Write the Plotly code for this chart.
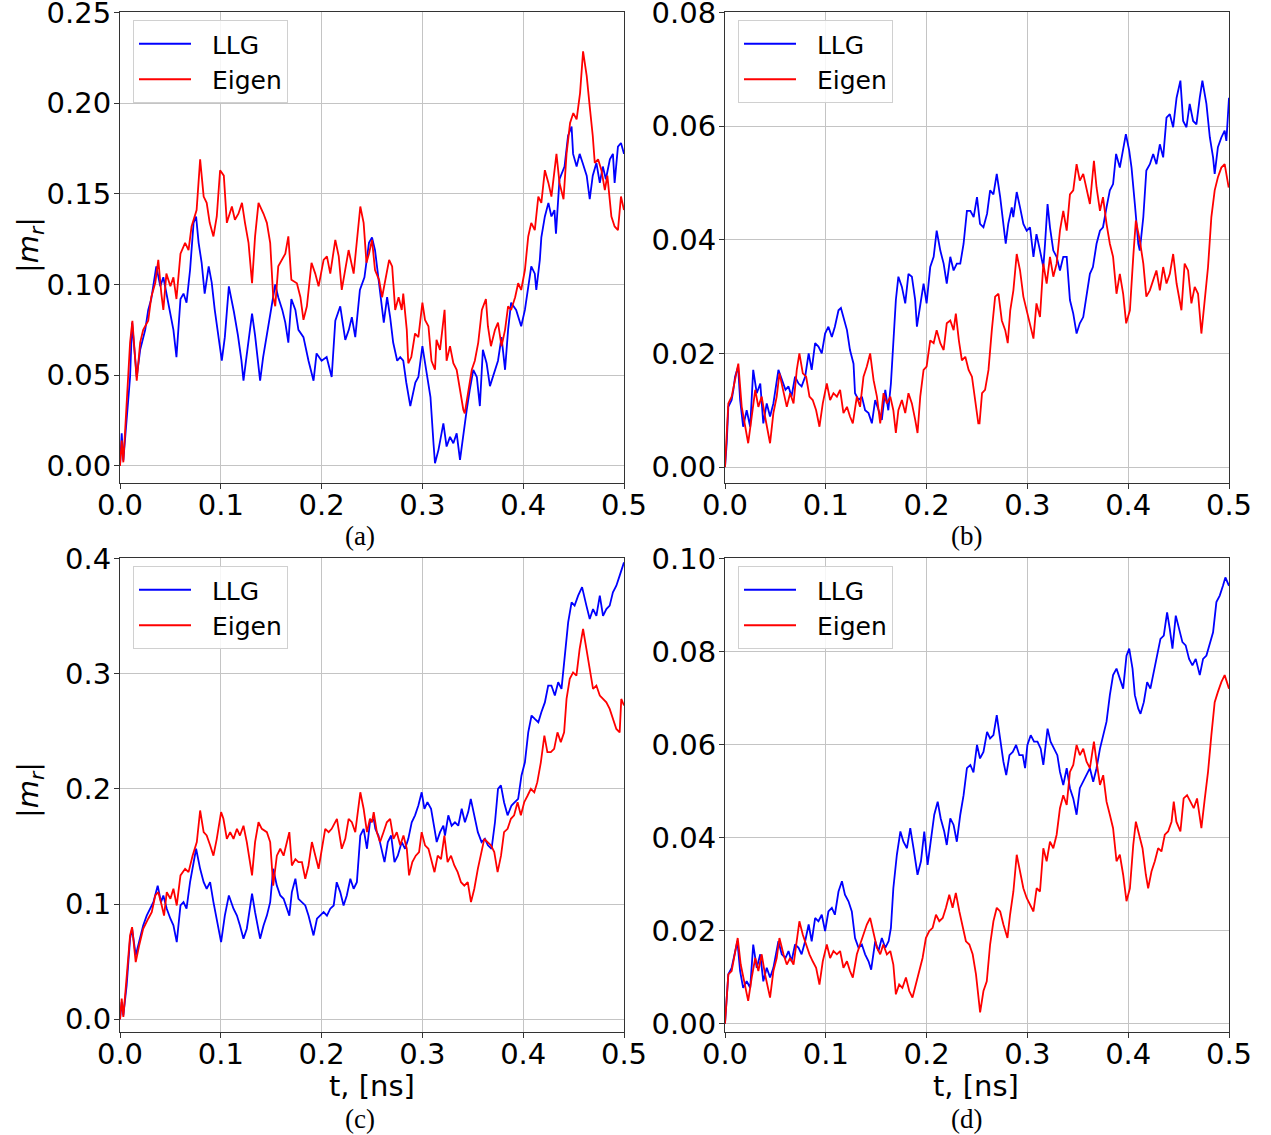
import plotly.graph_objects as go

# ---------------------------------------------------------------------------
# |m_r| versus time for the four cases, LLG and eigen-mode solutions
# ---------------------------------------------------------------------------

# (a)
t_a_llg = [0, 0.0017, 0.0033, 0.0066, 0.01, 0.012, 0.015, 0.0166, 0.02, 0.025, 0.028, 0.031, 0.036, 0.04,
           0.043, 0.046, 0.05, 0.053, 0.056, 0.06, 0.063, 0.066, 0.0695, 0.073, 0.0755, 0.078, 0.081, 0.084,
           0.088, 0.091, 0.094, 0.0977, 0.101, 0.104, 0.108, 0.113, 0.117, 0.1205, 0.1225, 0.125, 0.128, 0.131,
           0.134, 0.137, 0.139, 0.142, 0.145, 0.147, 0.151, 0.154, 0.157, 0.161, 0.164, 0.167, 0.17, 0.174,
           0.177, 0.182, 0.187, 0.192, 0.195, 0.2, 0.205, 0.21, 0.2136, 0.2185, 0.2235, 0.227, 0.23, 0.2334,
           0.238, 0.2425, 0.247, 0.25, 0.253, 0.257, 0.26, 0.2617, 0.265, 0.268, 0.271, 0.275, 0.278, 0.281,
           0.284, 0.288, 0.293, 0.296, 0.3, 0.304, 0.308, 0.311, 0.3125, 0.316, 0.3208, 0.324, 0.3274, 0.3307,
           0.334, 0.3373, 0.3406, 0.344, 0.347, 0.3505, 0.354, 0.357, 0.36, 0.3637, 0.367, 0.372, 0.375,
           0.3785, 0.382, 0.385, 0.388, 0.393, 0.398, 0.4017, 0.405, 0.408, 0.4115, 0.413, 0.4165, 0.418,
           0.4215, 0.425, 0.428, 0.431, 0.4325, 0.436, 0.441, 0.4445, 0.448, 0.4495, 0.453, 0.456, 0.459,
           0.463, 0.466, 0.469, 0.4726, 0.476, 0.479, 0.482, 0.486, 0.489, 0.4907, 0.494, 0.497, 0.5]
m_a_llg = [0.0, 0.018, 0.003, 0.025, 0.049, 0.079, 0.058, 0.049, 0.064, 0.075, 0.086, 0.092, 0.11, 0.099,
           0.104, 0.095, 0.082, 0.075, 0.06, 0.092, 0.095, 0.09, 0.108, 0.134, 0.1375, 0.123, 0.112, 0.095,
           0.11, 0.101, 0.086, 0.0695, 0.058, 0.071, 0.099, 0.085, 0.072, 0.058, 0.047, 0.058, 0.07, 0.084,
           0.072, 0.058, 0.047, 0.06, 0.07, 0.077, 0.088, 0.1, 0.093, 0.086, 0.079, 0.068, 0.092, 0.086,
           0.075, 0.071, 0.058, 0.047, 0.062, 0.058, 0.06, 0.049, 0.08, 0.088, 0.0695, 0.075, 0.082, 0.071,
           0.097, 0.104, 0.123, 0.126, 0.119, 0.099, 0.086, 0.079, 0.093, 0.082, 0.068, 0.058, 0.06, 0.058,
           0.046, 0.033, 0.046, 0.049, 0.066, 0.053, 0.038, 0.0125, 0.0015, 0.009, 0.0235, 0.0107, 0.016, 0.0125,
           0.018, 0.0033, 0.018, 0.031, 0.042, 0.053, 0.049, 0.033, 0.064, 0.0566, 0.044, 0.053, 0.058,
           0.071, 0.053, 0.075, 0.09, 0.086, 0.077, 0.086, 0.099, 0.11, 0.106, 0.097, 0.1136, 0.126,
           0.1375, 0.145, 0.1375, 0.141, 0.128, 0.158, 0.165, 0.182, 0.187, 0.172, 0.165, 0.172, 0.167,
           0.16, 0.147, 0.16, 0.167, 0.156, 0.165, 0.158, 0.169, 0.172, 0.156, 0.176, 0.178, 0.172]

t_a_eig = [0, 0.0017, 0.0033, 0.0066, 0.01, 0.0123, 0.015, 0.0166, 0.02, 0.023, 0.028, 0.031, 0.035, 0.038,
           0.041, 0.043, 0.046, 0.05, 0.053, 0.056, 0.06, 0.0646, 0.068, 0.071, 0.076, 0.0795, 0.083, 0.086,
           0.089, 0.0927, 0.096, 0.0993, 0.103, 0.106, 0.111, 0.114, 0.1175, 0.121, 0.124, 0.1275, 0.131,
           0.134, 0.1374, 0.1424, 0.1457, 0.149, 0.152, 0.154, 0.157, 0.1606, 0.164, 0.167, 0.17, 0.1755,
           0.179, 0.182, 0.1854, 0.19, 0.1937, 0.197, 0.202, 0.2053, 0.2086, 0.2136, 0.217, 0.22, 0.2235,
           0.2268, 0.2318, 0.235, 0.2384, 0.2417, 0.2445, 0.247, 0.25, 0.253, 0.257, 0.26, 0.2637, 0.267,
           0.27, 0.273, 0.2764, 0.2795, 0.281, 0.2845, 0.286, 0.289, 0.2927, 0.296, 0.3, 0.3026, 0.306,
           0.309, 0.3125, 0.314, 0.3175, 0.322, 0.324, 0.3274, 0.3307, 0.334, 0.3373, 0.3406, 0.342,
           0.3455, 0.349, 0.352, 0.3554, 0.359, 0.363, 0.365, 0.368, 0.372, 0.375, 0.3785, 0.382, 0.385,
           0.388, 0.392, 0.395, 0.398, 0.4017, 0.405, 0.408, 0.4115, 0.415, 0.418, 0.4215, 0.425, 0.428,
           0.433, 0.436, 0.44, 0.443, 0.4465, 0.4497, 0.453, 0.4564, 0.4594, 0.463, 0.466, 0.469, 0.471,
           0.4743, 0.4776, 0.481, 0.4835, 0.4875, 0.4907, 0.494, 0.497, 0.5]
m_a_eig = [0.0, 0.014, 0.002, 0.035, 0.068, 0.08, 0.06, 0.047, 0.068, 0.075, 0.08, 0.093, 0.101, 0.1136,
           0.095, 0.086, 0.106, 0.099, 0.104, 0.092, 0.117, 0.123, 0.119, 0.132, 0.141, 0.169, 0.1485, 0.145,
           0.134, 0.1265, 0.1375, 0.163, 0.16, 0.134, 0.143, 0.1357, 0.139, 0.145, 0.134, 0.123, 0.1007,
           0.1265, 0.145, 0.139, 0.134, 0.123, 0.093, 0.088, 0.11, 0.1136, 0.117, 0.1265, 0.1026, 0.1007,
           0.093, 0.0805, 0.088, 0.112, 0.106, 0.099, 0.1136, 0.1155, 0.106, 0.1246, 0.1155, 0.097, 0.108,
           0.119, 0.106, 0.123, 0.143, 0.134, 0.112, 0.117, 0.1246, 0.108, 0.1026, 0.093, 0.104, 0.1136,
           0.11, 0.086, 0.093, 0.086, 0.095, 0.075, 0.0566, 0.06, 0.073, 0.071, 0.09, 0.0805, 0.077,
           0.058, 0.053, 0.0695, 0.064, 0.086, 0.058, 0.066, 0.0566, 0.053, 0.042, 0.031, 0.029,
           0.04, 0.053, 0.058, 0.068, 0.086, 0.092, 0.077, 0.066, 0.075, 0.079, 0.066, 0.075, 0.088,
           0.086, 0.093, 0.1007, 0.097, 0.108, 0.1265, 0.134, 0.13, 0.1485, 0.145, 0.163, 0.156, 0.1485,
           0.172, 0.156, 0.147, 0.172, 0.189, 0.1945, 0.191, 0.2055, 0.2285, 0.215, 0.198, 0.182, 0.167,
           0.169, 0.163, 0.152, 0.16, 0.1375, 0.132, 0.13, 0.1485, 0.141]

# (b)
t_b_llg = [0, 0.0017, 0.0033, 0.0066, 0.0083, 0.01, 0.013, 0.015, 0.018, 0.0215, 0.025, 0.028, 0.0315, 0.035,
           0.038, 0.0414, 0.0447, 0.048, 0.053, 0.0563, 0.06, 0.063, 0.066, 0.0695, 0.073, 0.076, 0.0795,
           0.083, 0.086, 0.0894, 0.0927, 0.096, 0.0993, 0.1026, 0.106, 0.109, 0.1126, 0.115, 0.1175, 0.121,
           0.124, 0.1275, 0.129, 0.1325, 0.1358, 0.139, 0.1424, 0.1457, 0.149, 0.1523, 0.1556, 0.159, 0.162,
           0.1646, 0.167, 0.1695, 0.172, 0.1755, 0.1788, 0.182, 0.1854, 0.1887, 0.1904, 0.1937, 0.197, 0.2,
           0.2036, 0.207, 0.21, 0.2136, 0.2169, 0.22, 0.2235, 0.2268, 0.23, 0.2334, 0.2367, 0.24, 0.2434,
           0.2467, 0.25, 0.253, 0.2564, 0.26, 0.263, 0.2663, 0.2696, 0.273, 0.276, 0.2785, 0.281, 0.2845,
           0.286, 0.2894, 0.2927, 0.296, 0.2993, 0.3026, 0.306, 0.309, 0.3125, 0.3158, 0.3175, 0.32, 0.3224,
           0.3257, 0.329, 0.3323, 0.3356, 0.339, 0.3422, 0.3455, 0.3488, 0.352, 0.3554, 0.3587, 0.362, 0.365,
           0.3686, 0.372, 0.375, 0.3785, 0.3818, 0.385, 0.388, 0.3917, 0.395, 0.3977, 0.401, 0.4033, 0.4066,
           0.41, 0.4115, 0.415, 0.418, 0.4215, 0.4248, 0.428, 0.4314, 0.4347, 0.438, 0.4413, 0.4446, 0.448,
           0.4518, 0.4545, 0.4578, 0.461, 0.4644, 0.4677, 0.471, 0.4736, 0.4776, 0.481, 0.4842, 0.4858,
           0.489, 0.4924, 0.4957, 0.4974, 0.5]
m_b_llg = [0.0, 0.0042, 0.0106, 0.0118, 0.0136, 0.0159, 0.0177, 0.0118, 0.0071, 0.01, 0.0071, 0.0171, 0.013,
           0.0147, 0.0077, 0.0112, 0.0089, 0.0112, 0.0171, 0.0153, 0.0136, 0.0142, 0.0124, 0.0159, 0.0147,
           0.0142, 0.0159, 0.02, 0.0171, 0.0218, 0.0212, 0.02, 0.0235, 0.0247, 0.0229, 0.0247, 0.0276, 0.028,
           0.0264, 0.0241, 0.0206, 0.0182, 0.013, 0.0118, 0.0124, 0.01, 0.0095, 0.0077, 0.0118, 0.01, 0.0083,
           0.0136, 0.01, 0.0147, 0.0218, 0.0294, 0.0335, 0.0317, 0.0288, 0.034, 0.0335, 0.0294, 0.0247,
           0.0282, 0.0323, 0.0288, 0.0352, 0.037, 0.0416, 0.0381, 0.0358, 0.0323, 0.037, 0.0346, 0.0358,
           0.0358, 0.0393, 0.0451, 0.0451, 0.044, 0.0475, 0.0428, 0.0422, 0.0446, 0.0487, 0.048, 0.0516,
           0.0475, 0.0428, 0.0393, 0.0428, 0.0457, 0.044, 0.0484, 0.0457, 0.0428, 0.0416, 0.0422, 0.037,
           0.041, 0.0381, 0.0352, 0.0393, 0.0463, 0.0422, 0.0381, 0.037, 0.0346, 0.037, 0.037, 0.0294,
           0.027, 0.0235, 0.0253, 0.0264, 0.0305, 0.034, 0.0352, 0.0393, 0.0416, 0.0422, 0.0457, 0.0487,
           0.0498, 0.0551, 0.0527, 0.0557, 0.0586, 0.0557, 0.0527, 0.0463, 0.0393, 0.0381, 0.044, 0.0522,
           0.0533, 0.0551, 0.0533, 0.0568, 0.0545, 0.0615, 0.0621, 0.0598, 0.065, 0.068, 0.0609, 0.0598,
           0.0639, 0.0609, 0.0603, 0.065, 0.068, 0.0639, 0.058, 0.0545, 0.0516, 0.0563, 0.058, 0.0592,
           0.0574, 0.065]

t_b_eig = [0, 0.0033, 0.0066, 0.01, 0.0132, 0.0166, 0.02, 0.023, 0.0265, 0.03, 0.0331, 0.0364, 0.0397,
           0.0447, 0.048, 0.0513, 0.054, 0.058, 0.0613, 0.0646, 0.068, 0.0712, 0.0738, 0.0772, 0.0805,
           0.0838, 0.087, 0.0904, 0.0937, 0.097, 0.101, 0.1043, 0.1076, 0.111, 0.1142, 0.1175, 0.121, 0.124,
           0.1268, 0.1308, 0.134, 0.1374, 0.1407, 0.144, 0.1474, 0.1507, 0.154, 0.1573, 0.1606, 0.164, 0.167,
           0.1695, 0.172, 0.1755, 0.1788, 0.182, 0.1854, 0.1887, 0.191, 0.1937, 0.197, 0.2, 0.2036, 0.207,
           0.21, 0.2136, 0.2169, 0.22, 0.2235, 0.2268, 0.229, 0.232, 0.235, 0.2384, 0.2417, 0.245, 0.248,
           0.2513, 0.2525, 0.255, 0.258, 0.2614, 0.2647, 0.268, 0.2713, 0.2746, 0.278, 0.2805, 0.283, 0.2861,
           0.2894, 0.2927, 0.296, 0.2993, 0.3026, 0.306, 0.309, 0.3125, 0.3158, 0.3191, 0.3224, 0.3257,
           0.329, 0.3323, 0.3356, 0.339, 0.3422, 0.3455, 0.3488, 0.352, 0.3554, 0.3587, 0.362, 0.366,
           0.3686, 0.372, 0.375, 0.3785, 0.3818, 0.385, 0.3884, 0.3917, 0.395, 0.398, 0.4017, 0.405, 0.4076,
           0.4115, 0.415, 0.418, 0.4215, 0.4248, 0.428, 0.4314, 0.4347, 0.438, 0.4413, 0.4446, 0.448, 0.4528,
           0.456, 0.4594, 0.4627, 0.466, 0.4693, 0.4726, 0.476, 0.4792, 0.4825, 0.4858, 0.489, 0.4924,
           0.4957, 0.4997]
m_b_eig = [0.0, 0.0112, 0.0124, 0.0153, 0.0182, 0.0106, 0.0071, 0.0042, 0.0089, 0.0136, 0.0106, 0.0124,
           0.0089, 0.0042, 0.0095, 0.0124, 0.0165, 0.013, 0.0106, 0.013, 0.0112, 0.0171, 0.02, 0.0165, 0.0159,
           0.0124, 0.0118, 0.01, 0.0071, 0.0112, 0.0147, 0.0118, 0.013, 0.0124, 0.0136, 0.0095, 0.0106,
           0.0089, 0.0077, 0.0124, 0.0106, 0.0159, 0.0177, 0.02, 0.0153, 0.0124, 0.0077, 0.013, 0.0112,
           0.0124, 0.01, 0.006, 0.01, 0.0118, 0.0095, 0.013, 0.0112, 0.0083, 0.006, 0.0124, 0.0171, 0.0177,
           0.0223, 0.0218, 0.0241, 0.0218, 0.0206, 0.0253, 0.0258, 0.0241, 0.027, 0.0223, 0.0188, 0.0194,
           0.0171, 0.0159, 0.0124, 0.0077, 0.0077, 0.013, 0.0136, 0.0171, 0.0241, 0.03, 0.0305, 0.0258,
           0.0241, 0.0218, 0.0276, 0.0311, 0.0375, 0.0346, 0.03, 0.0276, 0.0253, 0.0226, 0.0288, 0.0264,
           0.0358, 0.0323, 0.037, 0.0335, 0.0358, 0.0416, 0.0451, 0.0416, 0.048, 0.0487, 0.0533, 0.0504,
           0.0516, 0.0487, 0.0463, 0.0539, 0.0492, 0.0451, 0.0475, 0.0428, 0.0393, 0.037, 0.0305, 0.034,
           0.0305, 0.0253, 0.0276, 0.037, 0.0434, 0.0399, 0.0358, 0.03, 0.0311, 0.0329, 0.0346, 0.0311,
           0.0352, 0.0323, 0.034, 0.0375, 0.0323, 0.0276, 0.0358, 0.0346, 0.0288, 0.0317, 0.0305, 0.0235,
           0.03, 0.0352, 0.044, 0.0487, 0.051, 0.0527, 0.0533, 0.0492]

# (c)
t_c_llg = [0, 0.0017, 0.0033, 0.0066, 0.01, 0.012, 0.0156, 0.019, 0.023, 0.0265, 0.03, 0.0331, 0.0374,
           0.0407, 0.043, 0.0464, 0.05, 0.053, 0.0563, 0.06, 0.063, 0.066, 0.0695, 0.073, 0.0755, 0.0795,
           0.083, 0.086, 0.0894, 0.0927, 0.096, 0.1003, 0.104, 0.108, 0.1126, 0.116, 0.119, 0.1225, 0.1258,
           0.131, 0.134, 0.139, 0.1424, 0.1457, 0.149, 0.152, 0.1556, 0.159, 0.1623, 0.1656, 0.168, 0.1705,
           0.174, 0.177, 0.1805, 0.1838, 0.187, 0.192, 0.1954, 0.1987, 0.202, 0.2053, 0.2086, 0.212, 0.215,
           0.2185, 0.2218, 0.225, 0.2285, 0.2318, 0.235, 0.2384, 0.2417, 0.245, 0.248, 0.2517, 0.2533,
           0.2564, 0.2597, 0.2624, 0.2657, 0.269, 0.2723, 0.2756, 0.2795, 0.2828, 0.286, 0.2894, 0.2927,
           0.296, 0.2993, 0.302, 0.305, 0.3086, 0.312, 0.3142, 0.3175, 0.3208, 0.3224, 0.3257, 0.329,
           0.3323, 0.3356, 0.339, 0.3422, 0.3455, 0.348, 0.3515, 0.355, 0.3587, 0.362, 0.365, 0.3686, 0.372,
           0.375, 0.3779, 0.381, 0.3845, 0.3884, 0.3917, 0.395, 0.3983, 0.4017, 0.405, 0.4083, 0.4115, 0.415,
           0.418, 0.4215, 0.4248, 0.428, 0.4314, 0.4347, 0.438, 0.4413, 0.4446, 0.448, 0.451, 0.4545,
           0.4584, 0.4627, 0.466, 0.4693, 0.4726, 0.476, 0.4792, 0.4825, 0.4858, 0.489, 0.4924, 0.4957, 0.5]
m_c_llg = [0.0, 0.015, 0.0035, 0.0295, 0.07, 0.0786, 0.0555, 0.067, 0.0815, 0.09, 0.096, 0.1017, 0.116,
           0.1017, 0.1075, 0.096, 0.0873, 0.0815, 0.067, 0.0988, 0.1017, 0.096, 0.119, 0.1364, 0.148, 0.1306,
           0.119, 0.1133, 0.119, 0.1017, 0.0873, 0.067, 0.09, 0.1075, 0.096, 0.09, 0.0815, 0.07, 0.0786,
           0.109, 0.093, 0.07, 0.0815, 0.09, 0.1017, 0.1306, 0.116, 0.1075, 0.1046, 0.096, 0.09, 0.1104,
           0.122, 0.1046, 0.1017, 0.0988, 0.09, 0.0728, 0.0873, 0.09, 0.093, 0.09, 0.096, 0.0988, 0.119,
           0.1104, 0.0988, 0.1075, 0.122, 0.1133, 0.119, 0.1595, 0.1653, 0.148, 0.171, 0.174, 0.1653,
           0.1595, 0.148, 0.1364, 0.1538, 0.1595, 0.1364, 0.142, 0.1538, 0.148, 0.1566, 0.171, 0.177,
           0.1855, 0.197, 0.1827, 0.1884, 0.1827, 0.1653, 0.1538, 0.1624, 0.168, 0.1595, 0.177, 0.168,
           0.171, 0.168, 0.1827, 0.171, 0.18, 0.1913, 0.177, 0.1624, 0.1538, 0.1566, 0.151, 0.148, 0.171,
           0.2, 0.203, 0.1884, 0.177, 0.1855, 0.1884, 0.1913, 0.2116, 0.223, 0.249, 0.2636, 0.2607, 0.2578,
           0.2665, 0.275, 0.2896, 0.2896, 0.281, 0.2925, 0.2867, 0.3156, 0.3445, 0.3618, 0.359, 0.3676,
           0.375, 0.359, 0.3474, 0.356, 0.35, 0.3676, 0.35, 0.356, 0.359, 0.3705, 0.3763, 0.385, 0.3965]

t_c_eig = [0, 0.0017, 0.0033, 0.0066, 0.01, 0.012, 0.0156, 0.019, 0.023, 0.028, 0.0315, 0.035, 0.038,
           0.0414, 0.0437, 0.0464, 0.05, 0.053, 0.0563, 0.06, 0.0646, 0.068, 0.072, 0.0762, 0.0795, 0.083,
           0.086, 0.0894, 0.0927, 0.096, 0.1003, 0.1026, 0.106, 0.1093, 0.1126, 0.116, 0.119, 0.1225, 0.1258,
           0.131, 0.134, 0.1374, 0.1407, 0.1457, 0.149, 0.152, 0.1556, 0.159, 0.1623, 0.1656, 0.168, 0.1705,
           0.174, 0.177, 0.1805, 0.1838, 0.187, 0.1904, 0.1937, 0.197, 0.2003, 0.2036, 0.207, 0.21, 0.2152,
           0.22, 0.2235, 0.2268, 0.23, 0.2334, 0.2384, 0.2417, 0.245, 0.248, 0.25, 0.2517, 0.2548, 0.258,
           0.2614, 0.2647, 0.268, 0.2713, 0.2746, 0.278, 0.2812, 0.2845, 0.2868, 0.29, 0.2934, 0.2967,
           0.2993, 0.3026, 0.306, 0.309, 0.312, 0.3152, 0.3185, 0.3218, 0.325, 0.3284, 0.3317, 0.335,
           0.3383, 0.3416, 0.345, 0.3482, 0.3515, 0.355, 0.358, 0.3614, 0.3647, 0.368, 0.3713, 0.3746,
           0.378, 0.381, 0.3845, 0.3878, 0.391, 0.3944, 0.3977, 0.401, 0.4043, 0.4076, 0.411, 0.414,
           0.4175, 0.421, 0.424, 0.4274, 0.4307, 0.434, 0.4373, 0.4406, 0.443, 0.4462, 0.4495, 0.4528,
           0.456, 0.4594, 0.4627, 0.466, 0.4693, 0.4726, 0.476, 0.4792, 0.4825, 0.4858, 0.489, 0.4924,
           0.4957, 0.4973, 0.5]
m_c_eig = [0.0, 0.018, 0.002, 0.0353, 0.0728, 0.08, 0.0497, 0.064, 0.0786, 0.0873, 0.093, 0.1075, 0.1104,
           0.0988, 0.09, 0.1104, 0.1046, 0.1133, 0.0988, 0.1249, 0.1306, 0.1277, 0.142, 0.1538, 0.1812,
           0.1624, 0.1595, 0.151, 0.142, 0.1566, 0.1798, 0.174, 0.1566, 0.1624, 0.1566, 0.1653, 0.1595,
           0.168, 0.1538, 0.1249, 0.1538, 0.171, 0.1653, 0.1624, 0.1538, 0.116, 0.142, 0.148, 0.142,
           0.1538, 0.1624, 0.1335, 0.139, 0.1364, 0.1364, 0.122, 0.1335, 0.1538, 0.142, 0.1306, 0.148,
           0.1653, 0.1624, 0.1653, 0.174, 0.148, 0.1566, 0.174, 0.171, 0.1624, 0.197, 0.1827, 0.1624, 0.174,
           0.171, 0.1798, 0.1624, 0.1538, 0.1624, 0.171, 0.174, 0.1566, 0.1624, 0.151, 0.1595, 0.148,
           0.1249, 0.1364, 0.142, 0.1451, 0.1624, 0.151, 0.148, 0.1364, 0.1277, 0.142, 0.139, 0.1595,
           0.1364, 0.142, 0.1335, 0.1277, 0.119, 0.116, 0.119, 0.1017, 0.1133, 0.1306, 0.142, 0.1566,
           0.1538, 0.151, 0.1451, 0.1277, 0.142, 0.1624, 0.1653, 0.174, 0.177, 0.1884, 0.177, 0.1884, 0.194,
           0.2, 0.197, 0.2058, 0.223, 0.2462, 0.2318, 0.2318, 0.2347, 0.249, 0.2405, 0.249, 0.278, 0.2954,
           0.301, 0.2983, 0.3214, 0.3387, 0.3214, 0.304, 0.2867, 0.2896, 0.281, 0.278, 0.275, 0.2694,
           0.2607, 0.252, 0.249, 0.278, 0.2723]

# (d)
t_d_llg = [0, 0.0017, 0.0033, 0.0066, 0.01, 0.0123, 0.015, 0.018, 0.0215, 0.025, 0.028, 0.0315, 0.035,
           0.038, 0.0414, 0.0447, 0.048, 0.053, 0.0563, 0.06, 0.063, 0.066, 0.0695, 0.073, 0.076, 0.0795,
           0.083, 0.086, 0.0894, 0.0927, 0.096, 0.0993, 0.1026, 0.106, 0.109, 0.1126, 0.116, 0.119, 0.1225,
           0.1258, 0.129, 0.1325, 0.1358, 0.139, 0.1424, 0.145, 0.149, 0.1523, 0.1556, 0.159, 0.1623,
           0.1646, 0.167, 0.1705, 0.174, 0.177, 0.1805, 0.1838, 0.187, 0.191, 0.1944, 0.1977, 0.201, 0.2043,
           0.2076, 0.211, 0.214, 0.2175, 0.22, 0.2235, 0.2268, 0.23, 0.2334, 0.2367, 0.24, 0.2434, 0.2465,
           0.25, 0.253, 0.2564, 0.26, 0.263, 0.2663, 0.2696, 0.273, 0.2762, 0.279, 0.2822, 0.2855, 0.2888,
           0.292, 0.2954, 0.2977, 0.3, 0.3033, 0.3066, 0.31, 0.3132, 0.3158, 0.32, 0.323, 0.3264, 0.3297,
           0.3323, 0.3356, 0.339, 0.3422, 0.3455, 0.3488, 0.352, 0.3554, 0.3587, 0.362, 0.3653, 0.3686,
           0.372, 0.3752, 0.3785, 0.3818, 0.385, 0.3884, 0.3917, 0.395, 0.3983, 0.401, 0.4043, 0.4066, 0.41,
           0.4122, 0.4155, 0.4188, 0.422, 0.4254, 0.4287, 0.432, 0.4353, 0.4386, 0.4412, 0.4439, 0.4472,
           0.4505, 0.4538, 0.457, 0.4604, 0.4637, 0.467, 0.471, 0.4743, 0.4776, 0.481, 0.4842, 0.4875,
           0.4908, 0.494, 0.4964, 0.5]
m_d_llg = [0.0, 0.0049, 0.0106, 0.012, 0.0156, 0.0177, 0.0113, 0.0077, 0.0091, 0.0077, 0.017, 0.012, 0.0149,
           0.0091, 0.012, 0.0099, 0.012, 0.0177, 0.0149, 0.0141, 0.0156, 0.0134, 0.017, 0.0163, 0.0149,
           0.0177, 0.0213, 0.0177, 0.0227, 0.022, 0.0234, 0.0199, 0.0241, 0.0249, 0.0234, 0.0284, 0.0306,
           0.0277, 0.0263, 0.0241, 0.0184, 0.0163, 0.017, 0.0149, 0.0134, 0.0116, 0.0177, 0.0156, 0.0184,
           0.0163, 0.0177, 0.0206, 0.0291, 0.0363, 0.0413, 0.0391, 0.0377, 0.042, 0.0377, 0.032, 0.0349,
           0.0413, 0.0341, 0.0399, 0.0449, 0.0477, 0.0441, 0.0413, 0.0384, 0.0441, 0.0427, 0.0391, 0.0449,
           0.0491, 0.0549, 0.0556, 0.054, 0.0599, 0.057, 0.0584, 0.0627, 0.0613, 0.062, 0.0663, 0.0606,
           0.0563, 0.0534, 0.0577, 0.0584, 0.0599, 0.0577, 0.0577, 0.0549, 0.0599, 0.062, 0.0606, 0.0606,
           0.0591, 0.0556, 0.0634, 0.0606, 0.0591, 0.0577, 0.0541, 0.0513, 0.0549, 0.0506, 0.0484, 0.0449,
           0.0506, 0.052, 0.0534, 0.0549, 0.052, 0.0549, 0.0591, 0.062, 0.0649, 0.0706, 0.0749, 0.0763,
           0.0741, 0.072, 0.0791, 0.0806, 0.0763, 0.0706, 0.0677, 0.0666, 0.0691, 0.0734, 0.072, 0.0756,
           0.0784, 0.0827, 0.0834, 0.0884, 0.0849, 0.0806, 0.0877, 0.0849, 0.082, 0.0813, 0.0784, 0.077,
           0.0784, 0.0749, 0.0784, 0.0791, 0.082, 0.0841, 0.0906, 0.092, 0.0941, 0.0959, 0.0941]

t_d_eig = [0, 0.0033, 0.0066, 0.01, 0.0126, 0.0156, 0.019, 0.023, 0.0265, 0.03, 0.0331, 0.0364, 0.0397,
           0.0447, 0.048, 0.0513, 0.054, 0.058, 0.0613, 0.0646, 0.068, 0.0712, 0.0738, 0.0772, 0.0805,
           0.0838, 0.087, 0.0904, 0.0937, 0.097, 0.101, 0.1043, 0.1076, 0.111, 0.1142, 0.1175, 0.121, 0.124,
           0.1268, 0.1308, 0.134, 0.1374, 0.1407, 0.144, 0.1474, 0.1507, 0.154, 0.157, 0.1606, 0.164, 0.167,
           0.1695, 0.1728, 0.176, 0.1795, 0.1828, 0.186, 0.1894, 0.1927, 0.196, 0.1993, 0.2026, 0.206,
           0.2093, 0.2126, 0.216, 0.2192, 0.2225, 0.2258, 0.229, 0.2325, 0.2358, 0.239, 0.2424, 0.2457,
           0.249, 0.2517, 0.2531, 0.2564, 0.2597, 0.263, 0.2663, 0.2696, 0.273, 0.2762, 0.2802, 0.2828,
           0.2861, 0.2894, 0.2927, 0.296, 0.2993, 0.3026, 0.306, 0.3092, 0.3125, 0.3158, 0.3191, 0.3224,
           0.3257, 0.329, 0.3323, 0.3356, 0.339, 0.3422, 0.3455, 0.3488, 0.3521, 0.3554, 0.3587, 0.362,
           0.366, 0.3686, 0.372, 0.3752, 0.3785, 0.3818, 0.385, 0.3884, 0.3917, 0.395, 0.3983, 0.4017,
           0.405, 0.4076, 0.411, 0.4142, 0.4175, 0.4198, 0.4231, 0.4264, 0.4297, 0.433, 0.4363, 0.4396,
           0.443, 0.4452, 0.4478, 0.4518, 0.455, 0.4584, 0.4617, 0.465, 0.4683, 0.4726, 0.476, 0.4792,
           0.4825, 0.4858, 0.489, 0.4924, 0.4957, 0.5]
m_d_eig = [0.0, 0.0106, 0.0113, 0.0149, 0.0184, 0.0127, 0.0091, 0.0049, 0.0099, 0.0141, 0.0113, 0.0149,
           0.0106, 0.0056, 0.0113, 0.0141, 0.0184, 0.0149, 0.0127, 0.0141, 0.0127, 0.0184, 0.022, 0.0191,
           0.017, 0.0149, 0.0134, 0.012, 0.0084, 0.0134, 0.017, 0.0141, 0.0156, 0.0149, 0.0156, 0.012,
           0.0134, 0.0113, 0.0099, 0.0149, 0.017, 0.0191, 0.0213, 0.0227, 0.0191, 0.0163, 0.0149, 0.017,
           0.0149, 0.0156, 0.0127, 0.0063, 0.0084, 0.0077, 0.0099, 0.007, 0.0056, 0.0084, 0.0113, 0.0141,
           0.0184, 0.0199, 0.0206, 0.0234, 0.022, 0.0227, 0.0249, 0.0277, 0.0249, 0.0281, 0.0241, 0.0206,
           0.0177, 0.017, 0.0149, 0.0106, 0.0041, 0.0024, 0.007, 0.0091, 0.017, 0.022, 0.0249, 0.0241,
           0.0213, 0.0184, 0.0234, 0.0284, 0.0363, 0.0327, 0.0291, 0.027, 0.0256, 0.0241, 0.0291, 0.0284,
           0.0377, 0.0349, 0.0391, 0.0377, 0.0406, 0.0463, 0.0491, 0.047, 0.0541, 0.0556, 0.0599, 0.0577,
           0.0591, 0.0563, 0.0549, 0.0606, 0.0563, 0.0513, 0.0534, 0.0477, 0.0449, 0.042, 0.0349, 0.0363,
           0.032, 0.0263, 0.0291, 0.0384, 0.0434, 0.0406, 0.0377, 0.032, 0.0291, 0.0327, 0.0349, 0.0377,
           0.037, 0.0406, 0.0413, 0.0434, 0.0477, 0.0434, 0.0413, 0.0484, 0.0491, 0.0477, 0.0463, 0.0484,
           0.042, 0.0484, 0.0541, 0.062, 0.0691, 0.0713, 0.0734, 0.0749, 0.072]

# y-axis tick values for each panel
yticks_a = [0.00, 0.05, 0.10, 0.15, 0.20, 0.25]
yticks_b = [0.00, 0.02, 0.04, 0.06, 0.08]
yticks_c = [0.0, 0.1, 0.2, 0.3, 0.4]
yticks_d = [0.00, 0.02, 0.04, 0.06, 0.08, 0.10]
xticks = [0.0, 0.1, 0.2, 0.3, 0.4, 0.5]

# ---------------------------------------------------------------------------
W, H = 1271, 1135
FONT = "DejaVu Sans"
BLUE, RED = "#0000ff", "#ff0000"
PAD = "\u00a0\u00a0"  # gap between legend line sample and its label


def px_x(x):
    return x / W


def px_y(y):
    return 1 - y / H


panels = [
    # (t_llg, m_llg, t_eig, m_eig, axis suffix, legend id, x-domain px, y-domain px, y-range, ticks, fmt)
    (t_a_llg, m_a_llg, t_a_eig, m_a_eig, "", "legend", (120, 624), (12, 483), (-0.0094, 0.2502), yticks_a, ".2f"),
    (t_b_llg, m_b_llg, t_b_eig, m_b_eig, "2", "legend2", (725, 1229), (12, 483), (-0.0028, 0.08008), yticks_b, ".2f"),
    (t_c_llg, m_c_llg, t_c_eig, m_c_eig, "3", "legend3", (120, 624), (558, 1032), (-0.011, 0.4003), yticks_c, ".1f"),
    (t_d_llg, m_d_llg, t_d_eig, m_d_eig, "4", "legend4", (725, 1229), (558, 1032), (-0.0018, 0.10008), yticks_d, ".2f"),
]

fig = go.Figure()
layout = dict(
    width=W, height=H,
    margin=dict(l=0, r=0, t=0, b=0, autoexpand=False),
    paper_bgcolor="white", plot_bgcolor="white",
    font=dict(family=FONT, size=29, color="black"),
    showlegend=True,
)

axis_common = dict(
    automargin=False,
    showline=True, mirror=True, linecolor="#333333", linewidth=1.2,
    showgrid=True, gridcolor="#c4c4c4", gridwidth=1,
    zeroline=False, ticks="outside", ticklen=5, tickwidth=1.2, tickcolor="#333333",
    tickfont=dict(family=FONT, size=29, color="black"),
    ticklabeloverflow="allow",
)

for t_l, m_l, t_e, m_e, sfx, leg, (x0, x1), (y0, y1), yr, yt, fmt in panels:
    xa, ya = "x" + sfx, "y" + sfx
    fig.add_trace(go.Scatter(x=t_l, y=m_l, mode="lines", name=PAD + "LLG", xaxis=xa, yaxis=ya,
                             line=dict(color=BLUE, width=1.8), legend=leg))
    fig.add_trace(go.Scatter(x=t_e, y=m_e, mode="lines", name=PAD + "Eigen", xaxis=xa, yaxis=ya,
                             line=dict(color=RED, width=1.8), legend=leg))
    layout["xaxis" + sfx] = dict(axis_common, domain=[px_x(x0), px_x(x1)], range=[0, 0.5],
                                 tickvals=xticks, tickformat=".1f", anchor=ya,
                                 ticklabelstandoff=-9)
    layout["yaxis" + sfx] = dict(axis_common, domain=[px_y(y1), px_y(y0)], range=list(yr),
                                 tickvals=yt, tickformat=fmt, anchor=xa,
                                 ticklabelstandoff=-3)
    layout[leg] = dict(
        x=px_x(x0 + 13), y=px_y(y0 + 8), xanchor="left", yanchor="top",
        xref="paper", yref="paper",
        bgcolor="rgba(255,255,255,0.85)", bordercolor="#d0d0d0", borderwidth=1,
        font=dict(family=FONT, size=25, color="black"),
        itemwidth=52, tracegroupgap=0,
    )

annotations = []
# panel captions
for label, cx, cy in [("(a)", 360, 536), ("(b)", 966, 536), ("(c)", 360, 1119), ("(d)", 966, 1119)]:
    annotations.append(dict(text=label, x=px_x(cx), y=px_y(cy), xref="paper", yref="paper",
                            showarrow=False, xanchor="center", yanchor="middle",
                            font=dict(family="Liberation Serif", size=27, color="black")))
# axis titles
for cx in (372, 976):
    annotations.append(dict(text="t, [ns]", x=px_x(cx), y=px_y(1086), xref="paper", yref="paper",
                            showarrow=False, xanchor="center", yanchor="middle",
                            font=dict(family=FONT, size=29, color="black")))
for cy in (245, 790):
    annotations.append(dict(text="|<i>m</i><sub><i>r</i></sub>|", x=px_x(30), y=px_y(cy),
                            xref="paper", yref="paper", showarrow=False, textangle=-90,
                            xanchor="center", yanchor="middle",
                            font=dict(family=FONT, size=29, color="black")))
layout["annotations"] = annotations

fig.update_layout(**layout)
fig.write_html("out.html")
